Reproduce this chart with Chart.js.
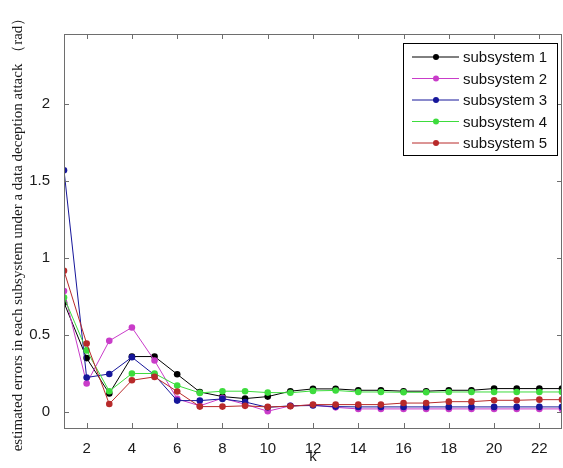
<!DOCTYPE html>
<html>
<head>
<meta charset="utf-8">
<script src="https://cdn.jsdelivr.net/npm/chart.js@4"></script>
<style>
  html, body { margin: 0; padding: 0; background: #fff; }
  #wrap { width: 563px; height: 468px; }
</style>
</head>
<body>
<div id="wrap"><canvas id="errChart" width="563" height="468"></canvas></div>
<script>
// time step k
const steps = [1, 2, 3, 4, 5, 6, 7, 8, 9, 10, 11, 12, 13, 14, 15, 16, 17, 18, 19, 20, 21, 22, 23];

// estimated errors (rad) per subsystem
const sub1 = [0.71, 0.35, 0.12, 0.36, 0.36, 0.245, 0.13, 0.10, 0.087, 0.10, 0.135, 0.15, 0.15, 0.141, 0.141, 0.135, 0.135, 0.141, 0.141, 0.152, 0.152, 0.152, 0.152];
const sub2 = [0.785, 0.185, 0.462, 0.549, 0.334, 0.085, 0.04, 0.09, 0.05, 0.005, 0.04, 0.045, 0.03, 0.02, 0.02, 0.02, 0.02, 0.02, 0.02, 0.02, 0.02, 0.02, 0.02];
const sub3 = [1.57, 0.224, 0.247, 0.356, 0.24, 0.074, 0.074, 0.085, 0.065, 0.03, 0.04, 0.042, 0.035, 0.033, 0.033, 0.033, 0.033, 0.033, 0.033, 0.033, 0.033, 0.033, 0.033];
const sub4 = [0.744, 0.40, 0.135, 0.25, 0.25, 0.172, 0.124, 0.135, 0.135, 0.126, 0.125, 0.137, 0.14, 0.13, 0.13, 0.128, 0.128, 0.13, 0.13, 0.13, 0.13, 0.13, 0.13];
const sub5 = [0.917, 0.445, 0.052, 0.206, 0.228, 0.133, 0.035, 0.035, 0.04, 0.033, 0.037, 0.048, 0.048, 0.048, 0.048, 0.058, 0.058, 0.067, 0.067, 0.076, 0.076, 0.08, 0.08];

const seriesNames = ['subsystem 1', 'subsystem 2', 'subsystem 3', 'subsystem 4', 'subsystem 5'];
const seriesColors = ['#000000', '#c93cc9', '#16169a', '#3ddc3d', '#b82a2a'];

const xTicks = [2, 4, 6, 8, 10, 12, 14, 16, 18, 20, 22];
const yTicks = [0, 0.5, 1, 1.5, 2];

const allSeries = [sub1, sub2, sub3, sub4, sub5];

const datasets = allSeries.map((vals, i) => ({
    label: seriesNames[i],
    data: vals.map((v, j) => ({ x: steps[j], y: v })),
    borderColor: seriesColors[i],
    backgroundColor: seriesColors[i],
    borderWidth: 1,
    pointRadius: 3.3,
    pointBorderWidth: 0,
    pointBackgroundColor: seriesColors[i],
    tension: 0,
    fill: false,
    order: 5 - i   // later series on top
}));

// box, inward ticks and the in-plot legend
const axesBox = {
    id: 'axesBox',
    afterDatasetsDraw(chart) {
        const { ctx, chartArea: a, scales } = chart;
        ctx.save();
        ctx.strokeStyle = '#6e6e6e';
        ctx.lineWidth = 1;
        ctx.beginPath();
        xTicks.forEach(t => {
            const px = Math.round(scales.x.getPixelForValue(t)) + 0.5;
            ctx.moveTo(px, a.bottom); ctx.lineTo(px, a.bottom - 5);
            ctx.moveTo(px, a.top); ctx.lineTo(px, a.top + 5);
        });
        yTicks.forEach(t => {
            const py = Math.round(scales.y.getPixelForValue(t)) + 0.5;
            ctx.moveTo(a.left, py); ctx.lineTo(a.left + 5, py);
            ctx.moveTo(a.right, py); ctx.lineTo(a.right - 5, py);
        });
        ctx.stroke();
        ctx.strokeRect(Math.round(a.left) + 0.5, Math.round(a.top) + 0.5,
            Math.round(a.right - a.left) - 1, Math.round(a.bottom - a.top));

        // legend
        const lx = 403.5, ly = 43.5, lw = 154, lh = 112;
        ctx.fillStyle = '#fff';
        ctx.fillRect(lx, ly, lw, lh);
        ctx.strokeStyle = '#000';
        ctx.strokeRect(lx, ly, lw, lh);
        ctx.font = '15px "Liberation Sans", Arial, sans-serif';
        ctx.textBaseline = 'middle';
        chart.data.datasets.forEach((ds, i) => {
            const y = 57 + i * 21.5;
            ctx.strokeStyle = ds.borderColor;
            ctx.beginPath();
            ctx.moveTo(412, y); ctx.lineTo(459, y);
            ctx.stroke();
            ctx.fillStyle = ds.borderColor;
            ctx.beginPath();
            ctx.arc(436, y, 3, 0, Math.PI * 2);
            ctx.fill();
            ctx.fillStyle = '#111';
            ctx.fillText(ds.label, 463, y + 1);
        });
        ctx.restore();
    }
};

const ctx = document.getElementById('errChart').getContext('2d');
new Chart(ctx, {
    type: 'line',
    data: { datasets: datasets },
    plugins: [axesBox],
    options: {
        responsive: false,
        animation: false,
        layout: {
            autoPadding: false,
            padding: { top: 34, right: 1, left: 0, bottom: 0 }
        },
        plugins: {
            legend: { display: false },
            tooltip: { enabled: false }
        },
        scales: {
            x: {
                type: 'linear',
                min: 1,
                max: 23,
                afterBuildTicks: scale => { scale.ticks = xTicks.map(v => ({ value: v })); },
                afterFit: scale => {
                    scale.height = 40;
                    scale.paddingLeft = 0;
                    scale.paddingRight = 0;
                },
                grid: { display: false },
                border: { display: false },
                ticks: {
                    color: '#1a1a1a',
                    padding: 4,
                    maxRotation: 0,
                    font: { family: '"Liberation Sans", Arial, sans-serif', size: 15 }
                },
                title: {
                    display: true,
                    text: 'k',
                    color: '#1a1a1a',
                    padding: { top: 0, bottom: 2 },
                    font: { family: '"Liberation Sans", Arial, sans-serif', size: 15 }
                }
            },
            y: {
                type: 'linear',
                min: -0.104,
                max: 2.455,
                afterBuildTicks: scale => { scale.ticks = yTicks.map(v => ({ value: v })); },
                afterFit: scale => { scale.width = 64; },
                grid: { display: false },
                border: { display: false },
                ticks: {
                    color: '#1a1a1a',
                    padding: 6,
                    callback: v => String(v),
                    font: { family: '"Liberation Sans", Arial, sans-serif', size: 15 }
                },
                title: {
                    display: true,
                    text: 'estimated errors in each subsystem under a data deception attack （rad）',
                    color: '#1a1a1a',
                    padding: { top: 9, bottom: 0 },
                    font: { family: '"Liberation Serif", "Times New Roman", serif', size: 15 }
                }
            }
        }
    }
});
</script>
</body>
</html>
